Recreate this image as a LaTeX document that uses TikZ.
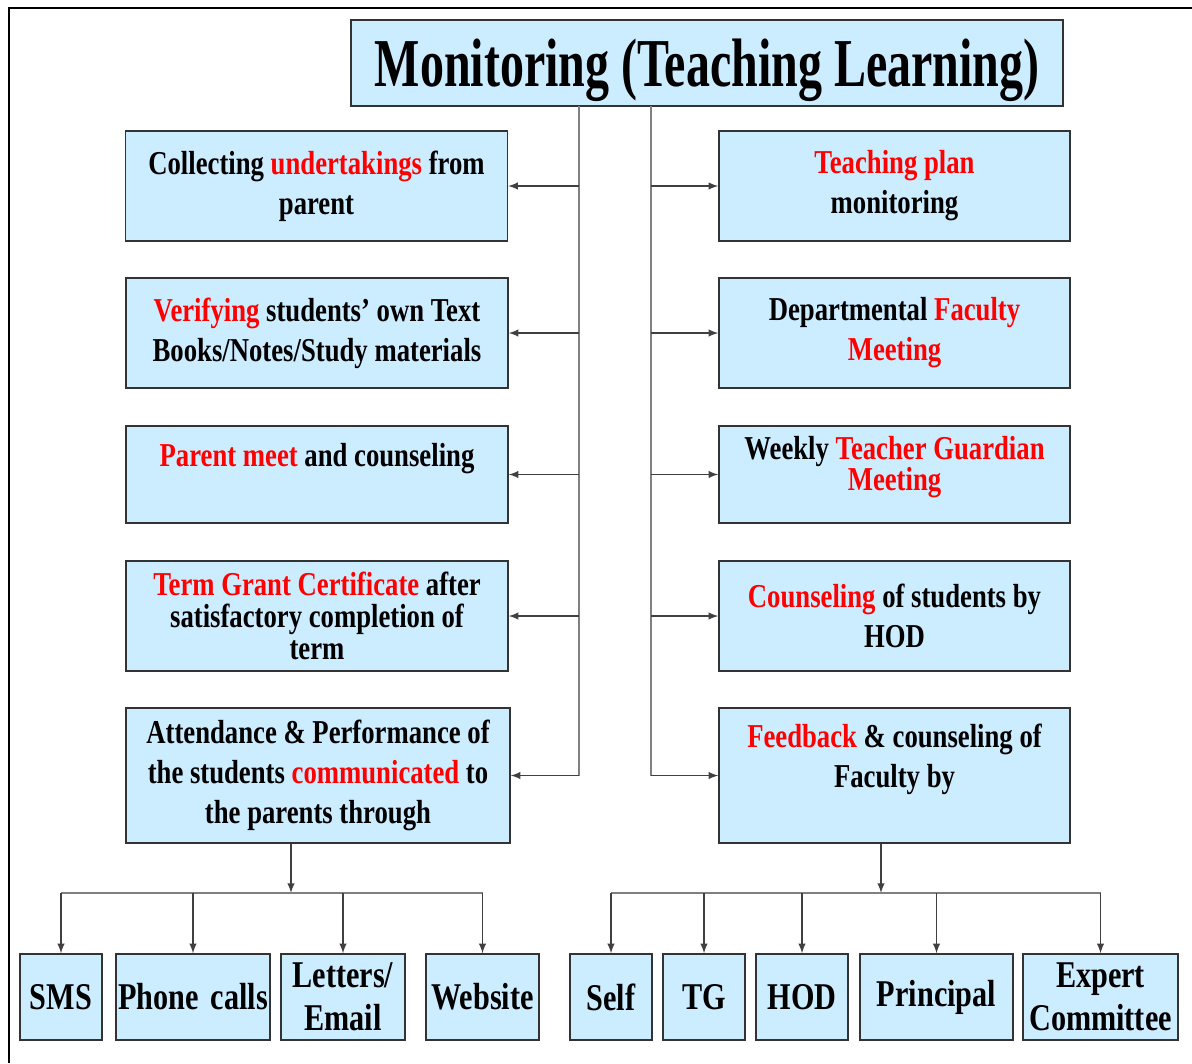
\documentclass[tikz,border=0pt]{standalone}
\usepackage{fontspec}
\setmainfont{Liberation Serif}[FakeStretch=0.8]
\newfontfamily\titlefont{Liberation Serif}[FakeStretch=0.7]
\usepackage{tikz}

\definecolor{boxblue}{RGB}{204,236,255}
\newcommand{\redtxt}[1]{\textcolor{red}{#1}}

\tikzset{
  box/.style={draw=black!80, fill=boxblue, line width=0.8pt, align=center, inner sep=0pt,
    font=\bfseries\fontsize{19}{22.7}\selectfont},
  lbox/.style={box, minimum width=382*0.02cm},
  rbox/.style={box, minimum width=351*0.02cm},
  leaf/.style={box, minimum height=86*0.02cm, font=\bfseries\fontsize{21.5}{24.4}\selectfont},
  trunk/.style={draw=gray, line width=0.7pt},
  link/.style={->, >=latex, draw=black!75, line width=0.9pt},
}

\begin{document}
\begin{tikzpicture}[x=0.02cm, y=-0.02cm]
\useasboundingbox (0,0) rectangle (1192,1063);

% outer frame
\draw[line width=1.1pt] (9,1063) -- (9,8) -- (1192,8);

% plot the title
\node[box, minimum width=712*0.02cm, minimum height=86*0.02cm, text depth=0pt,
  font=\titlefont\bfseries\fontsize{39}{45}\selectfont] (title) at (707,63) {Monitoring (Teaching Learning)};


% plot the left column
\node[lbox, minimum height=110*0.02cm] (collect) at (316.5,186) {Collecting \redtxt{undertakings} from\\parent};
\node[lbox, minimum height=110*0.02cm] (verify) at (317,333) {\redtxt{Verifying} students' own Text\\Books/Notes/Study materials};
\node[lbox, minimum height=97*0.02cm] (meet) at (317,474.5) {\redtxt{Parent meet} and counseling\\\mbox{}};
\node[lbox, minimum height=110*0.02cm] (term) at (317,616) {\redtxt{Term Grant Certificate} after\\[-4.5pt]satisfactory completion of\\[-4.5pt]term};
\node[lbox, minimum width=384*0.02cm, minimum height=135*0.02cm] (attend) at (318,775.5) {Attendance \& Performance of\\the students \redtxt{communicated} to\\the parents through};


% plot the right column
\node[rbox, minimum height=110*0.02cm] (plan) at (894.5,186) {\redtxt{Teaching plan}\\monitoring};
\node[rbox, minimum height=110*0.02cm] (faculty) at (894.5,333) {Departmental \redtxt{Faculty}\\\redtxt{Meeting}};
\node[rbox, minimum height=97*0.02cm] (guardian) at (894.5,474.5) {Weekly \redtxt{Teacher Guardian}\\[-5pt]\redtxt{Meeting}\\[-10pt]\mbox{}};
\node[rbox, minimum height=110*0.02cm] (hodcoun) at (894.5,616) {\redtxt{Counseling} of students by\\HOD};
\node[rbox, minimum height=135*0.02cm] (feedback) at (894.5,775.5) {\redtxt{Feedback} \& counseling of\\Faculty by\\\mbox{}};


%plot the two trunks
\coordinate (ltop) at (579,106);
\coordinate (rtop) at (651,106);
\draw[trunk] (ltop) -- (ltop |- attend.east);
\draw[trunk] (rtop) -- (rtop |- feedback.west);

\foreach \n in {collect, verify, meet, term, attend}
  \draw[link] (ltop |- \n.east) -- (\n.east);
\foreach \n in {plan, faculty, guardian, hodcoun, feedback}
  \draw[link] (rtop |- \n.west) -- (\n.west);


%plot the ways to reach parents
\node[leaf, minimum width=82*0.02cm] (sms) at (61,997) {SMS};
\node[leaf, minimum width=154*0.02cm] (phone) at (193,997) {Phone\hspace{0.12em} calls};
\node[leaf, minimum width=124*0.02cm] (letter) at (343,997) {Letters/\\Email};
\node[leaf, minimum width=113*0.02cm] (web) at (482.5,997) {Website};

\coordinate (lsplit) at (291,893);
\draw[link] (lsplit |- attend.south) -- (lsplit);
\draw[trunk] (sms.north |- lsplit) -- (web.north |- lsplit);
\foreach \n in {sms, phone, letter, web}
  \draw[link] (\n.north |- lsplit) -- (\n.north);


%plot who gives feedback
\node[leaf, minimum width=82*0.02cm] (self) at (611,997) {Self};
\node[leaf, minimum width=82*0.02cm] (tg) at (704,997) {TG};
\node[leaf, minimum width=92*0.02cm] (hod) at (802,997) {HOD};
\node[leaf, minimum width=153*0.02cm] (principal) at (936.5,997) {Principal};
\node[leaf, minimum width=155*0.02cm] (expert) at (1100.5,997) {Expert\\Committee};

\coordinate (rsplit) at (881,893);
\draw[link] (rsplit |- feedback.south) -- (rsplit);
\draw[trunk] (self.north |- rsplit) -- (expert.north |- rsplit);
\foreach \n in {self, tg, hod, principal, expert}
  \draw[link] (\n.north |- rsplit) -- (\n.north);

\end{tikzpicture}
\end{document}
